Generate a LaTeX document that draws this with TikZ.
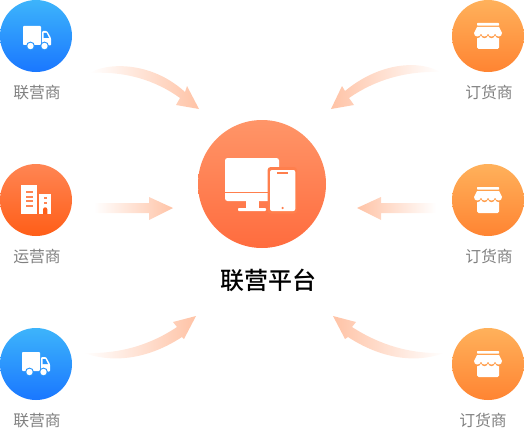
\documentclass[tikz,border=0pt]{standalone}
\usepackage{fontspec}
\setmainfont{Noto Sans CJK SC}
\newfontfamily\cjkb{Noto Sans CJK SC Medium}
\definecolor{flow}{HTML}{FFC3A6}
\definecolor{bluet}{HTML}{3DB4FB}
\definecolor{blueb}{HTML}{1A77FF}
\definecolor{bluem}{HTML}{2A96FD}
\definecolor{redt}{HTML}{FF8553}
\definecolor{redb}{HTML}{FF5E18}
\definecolor{ambt}{HTML}{FFB15B}
\definecolor{ambb}{HTML}{FF8432}
\definecolor{ambm}{HTML}{FF9C48}
\definecolor{maint}{HTML}{FF9568}
\definecolor{mainb}{HTML}{FF6C3E}
\definecolor{midorg}{HTML}{FF7F4D}
\tikzset{
 disc/.style={circle,inner sep=0pt,minimum size=72pt},
 bluedisc/.style={disc,top color=bluet,bottom color=blueb},
 reddisc/.style={disc,top color=redt,bottom color=redb},
 ambdisc/.style={disc,top color=ambt,bottom color=ambb},
 maindisc/.style={circle,inner sep=0pt,minimum size=128pt,top color=maint,bottom color=mainb},
 lbl/.style={inner sep=0pt,text=black!50,font=\fontsize{15.8}{16}\selectfont},
 mainlbl/.style={inner sep=0pt,text=black,font=\cjkb\fontsize{24}{24}\selectfont},
 towards/.style={left color=white,right color=flow,draw=none},
 backwards/.style={left color=flow,right color=white,draw=none},
}
\newcommand{\truckicon}[3]{%
 \begin{scope}[shift={(#1,#2)}]
  \fill[white,rounded corners=0.8pt] (0,0) rectangle (18,19);
  \fill[white,rounded corners=1pt] (19,5) -- (24,5) -- (28,12) -- (28,19.5) -- (19,19.5) -- cycle;
  \fill[#3] (20.7,7) -- (23.5,7) -- (26,12) -- (20.7,12) -- cycle;
  \foreach \wx in {7.5,21.5}{
   \fill[#3] (\wx,20) circle (4.4pt);
   \fill[white] (\wx,20) circle (3.2pt);
  }
 \end{scope}}
\newcommand{\scallops}{(3,4) -- (25,4) -- (28,10) .. controls (28,14.6) and (22,14.6) .. (21,10.5)
    .. controls (20,14.6) and (15,14.6) .. (14,10.5) .. controls (13,14.6) and (8,14.6) .. (7,10.5)
    .. controls (6,14.6) and (0,14.6) .. (0,10) -- cycle}
\newcommand{\storeicon}[3]{%
 \begin{scope}[shift={(#1,#2)}]
  \fill[white,rounded corners=0.6pt] (3,0) rectangle (25,2.6);
  \fill[white,rounded corners=1.5pt] (3,12) rectangle (25,26);
  \begin{scope}[shift={(0,1.6)}]
   \fill[#3] \scallops;
  \end{scope}
  \fill[white] \scallops;
 \end{scope}}
\begin{document}
\begin{tikzpicture}[x=1pt,y=-1pt]
\useasboundingbox (0,0) rectangle (524,428);
% flows
\shade[towards] (90,73) .. controls (105,63) and (150,60) .. (185,92) -- (187,86) -- (199,109) -- (176,105) -- (180,98)
  .. controls (155,80) and (125,71) .. (90,73) -- cycle;
\shade[towards] (94,203) -- (149,203) -- (149,197) -- (173,208) -- (149,220) -- (149,213) -- (94,213) -- cycle;
\shade[towards] (84,353) .. controls (120,354) and (150,345) .. (177,327) -- (173,322) -- (196,316) -- (184,339) -- (182,337)
  .. controls (150,358) and (115,364) .. (84,353) -- cycle;
\shade[backwards] (440,72) .. controls (420,60) and (380,62) .. (345,91) -- (342,86) -- (331,109) -- (354,105) -- (349,98)
  .. controls (375,80) and (405,71) .. (440,72) -- cycle;
\shade[backwards] (436,203) -- (381,203) -- (381,197) -- (357,208) -- (381,220) -- (381,213) -- (436,213) -- cycle;
\shade[backwards] (444,353) .. controls (410,354) and (380,345) .. (352,327) -- (356,322) -- (333,316) -- (345,339) -- (348,337)
  .. controls (380,358) and (415,364) .. (444,353) -- cycle;
% discs
\node[bluedisc] (c1) at (36,36) {};
\node[reddisc] (c2) at (36,200) {};
\node[bluedisc] (c3) at (36,364) {};
\node[ambdisc] (c4) at (488,36) {};
\node[ambdisc] (c5) at (488,200) {};
\node[ambdisc] (c6) at (488,364) {};
\node[maindisc] (c0) at (262,184) {};
% icons
\truckicon{23}{26}{bluem}
\truckicon{22}{352}{bluem}
\storeicon{474}{23}{ambm}
\storeicon{474}{351}{ambm}
\storeicon{474}{187}{ambm}
% building
\fill[white] (21,185) rectangle (36.7,214);
\fill[white] (39.3,194) rectangle (51,214);
\foreach \sy in {191,195.6,200.2,204.8}
  \fill[redt] (26,\sy) rectangle (32.5,\sy+2);
\fill[redb] (43,214) -- (43,209.5) arc (180:360:2.2) -- (47.4,214) -- cycle;
\foreach \sy in {198,203}
  \fill[redt] (43.5,\sy-1) rectangle (47,\sy+1);
% devices
\fill[white,rounded corners=2.5pt] (225,201) -- (225,158) -- (279,158) -- (279,201) -- cycle;
\fill[midorg] (225,192) rectangle (279,192.8);
\fill[white] (246,201) rectangle (259,208);
\fill[white,rounded corners=0.8pt] (238,208) rectangle (266,211);
\fill[midorg,rounded corners=3pt] (267.6,167) rectangle (297,213.5);
\fill[white,rounded corners=2pt] (270,170) rectangle (295.3,211);
\fill[midorg] (277,172.2) rectangle (288,173.8);
\fill[midorg] (282.6,208) circle (1.2pt);
% labels
\node[lbl] (t1) at (37,92.5) {联营商};
\node[lbl] (t2) at (37,256.5) {运营商};
\node[lbl] (t3) at (37,420.5) {联营商};
\node[lbl] (t4) at (489,92.5) {订货商};
\node[lbl] (t5) at (489,256.5) {订货商};
\node[lbl] (t6) at (483,420.5) {订货商};
\node[mainlbl] (t0) at (268,280.5) {联营平台};
\end{tikzpicture}
\end{document}
